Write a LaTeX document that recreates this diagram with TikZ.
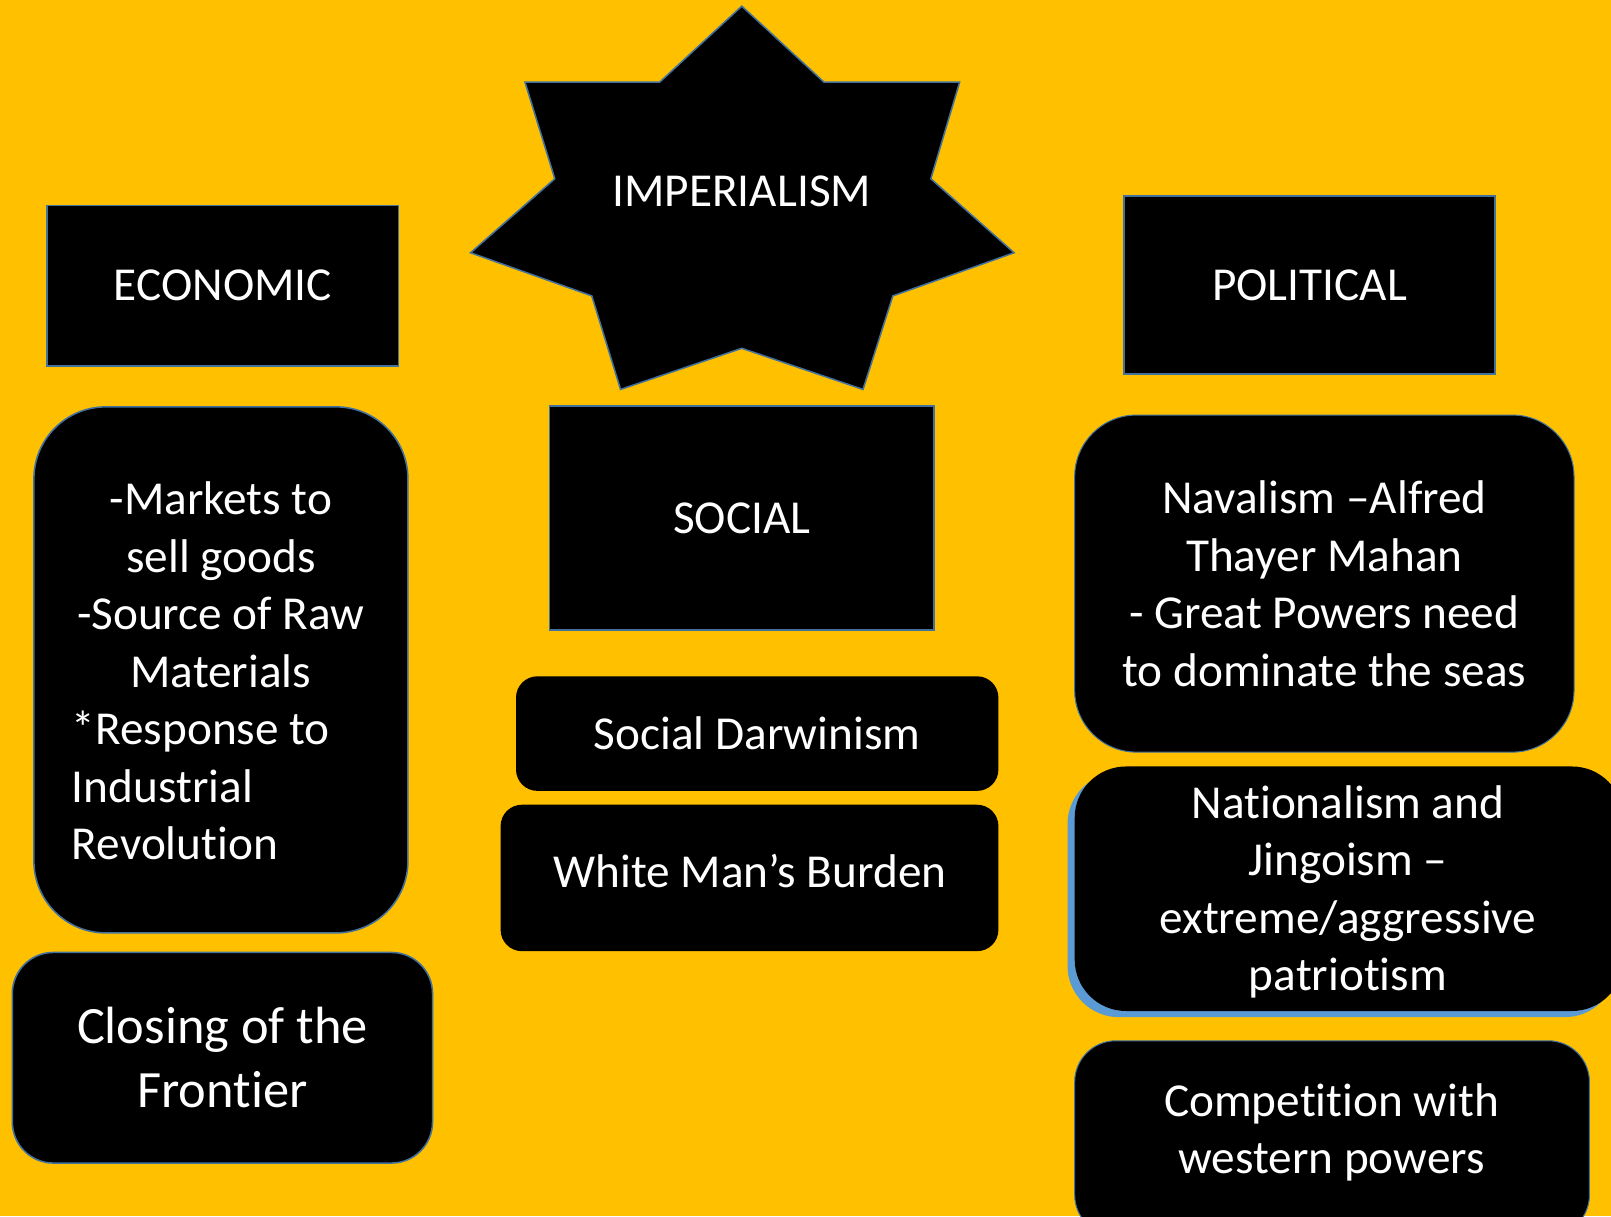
\documentclass[tikz,border=0pt]{standalone}
\usepackage{fontspec}
\setmainfont{Carlito}[Ligatures=CommonOff]
\usetikzlibrary{shadows}
\definecolor{bg}{HTML}{FFC000}
\definecolor{edge}{HTML}{41719C}
\definecolor{shadowblue}{HTML}{5B9BD5}
\begin{document}
\begin{tikzpicture}[x=1pt,y=-1pt,
  base/.style={text=white, inner sep=0pt, font=\fontsize{46}{56}\selectfont},
  txt/.style={base, align=center},
  sq/.style={txt, draw=edge, line width=1.5pt, fill=black},
  rbox/.style={sq, rounded corners=#1}]
\useasboundingbox (0,0) rectangle (1568,1184);
\clip (0,0) rectangle (1568,1184);
\fill[bg] (0,0) rectangle (1568,1184);

% star
\draw[fill=black, draw=edge, line width=1.5pt]
  (722,6) -- (802,80) -- (934,80) -- (906,174) -- (987,246) -- (869,288)
  -- (840,379) -- (722,339) -- (604,379) -- (576,288) -- (458,246)
  -- (540,174) -- (511,80) -- (642,80) -- cycle;
\node[txt] (imp) at (722,186) {IMPERIALISM};

% economic column
\node[sq, minimum width=342pt, minimum height=156pt] (econ) at (217,278) {ECONOMIC};
\node[rbox=70, minimum width=364pt, minimum height=512pt] (econbox) at (215,652) {};
\node[base, text width=290pt] (econtext) at (215,653)
  {\spaceskip=\fontdimen2\font\relax\parindent=0pt
   \centering -Markets to\\sell goods\\-Source of Raw\\Materials\par
   \raggedright *Response to\\Industrial\\Revolution\par};
\node[rbox=40, minimum width=409pt, minimum height=205pt,
  font=\fontsize{51}{62}\selectfont] (closing) at (216.5,1029.5) {Closing of the\\Frontier};

% social column
\node[sq, minimum width=374pt, minimum height=218pt] (social) at (722,504) {SOCIAL};
\node[rbox=20, draw=black, minimum width=468pt, minimum height=110pt] (darwin) at (737,714) {Social Darwinism};
\node[rbox=20, draw=black, minimum width=483pt, minimum height=141pt] (burden) at (729.5,854.5) {};
\node[txt] (burdentext) at (730,848) {White Man’s Burden};

% political column
\node[sq, minimum width=361pt, minimum height=173pt] (pol) at (1274.5,277.5) {POLITICAL};
\node[rbox=60, line width=1pt, minimum width=486pt, minimum height=328pt] (naval) at (1289,568)
  {Navalism –Alfred\\Thayer Mahan\\- Great Powers need\hspace*{14pt}\\to dominate the seas};
\node[rbox=50, draw=none, minimum width=534pt, minimum height=238pt,
  drop shadow={shadow xshift=-7pt, shadow yshift=-6pt, fill=shadowblue, opacity=1}]
  (nat) at (1313,865) {};
\node[txt] (nattext) at (1312,868) {Nationalism and\\Jingoism –\\extreme/aggressive\\patriotism};
\node[rbox=40, line width=1pt, minimum width=501pt, minimum height=190pt] (comp) at (1296.5,1108) {};
\node[txt] (comptext) at (1296,1102) {Competition with\\western powers};
\end{tikzpicture}
\end{document}
